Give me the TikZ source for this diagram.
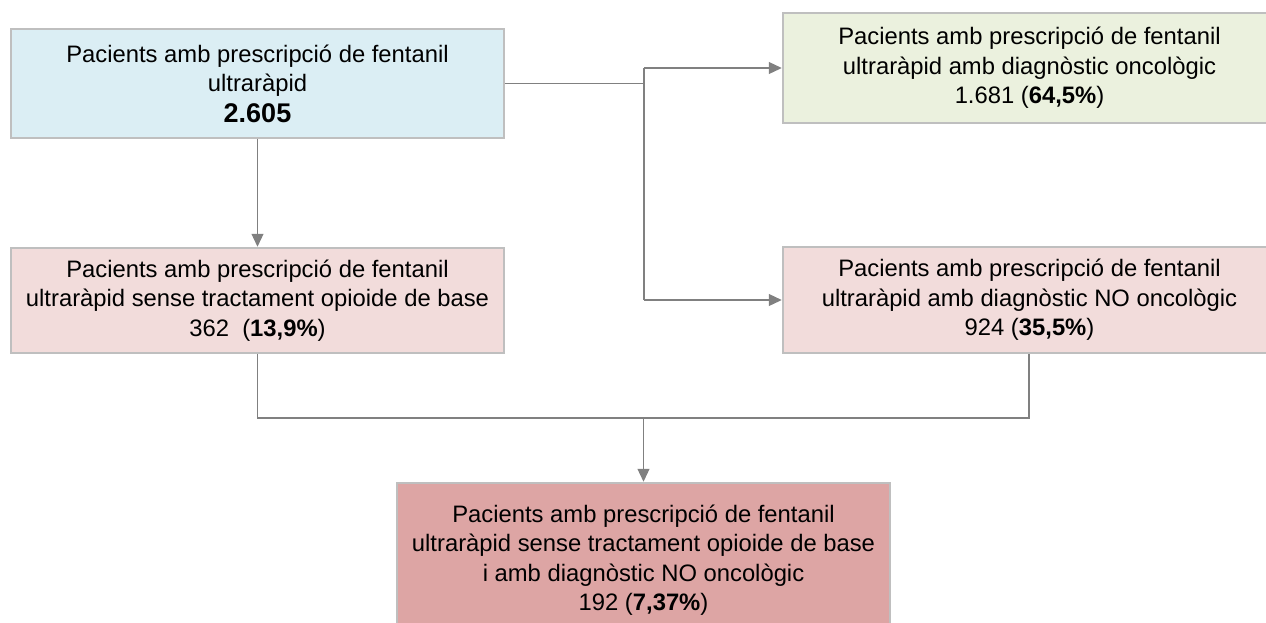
\documentclass[tikz,border=0pt]{standalone}
\usepackage{fontspec}
\setmainfont{Liberation Sans}
\usetikzlibrary{arrows.meta}
\definecolor{bluefill}{HTML}{DBEEF4}
\definecolor{greenfill}{HTML}{EBF1DE}
\definecolor{pinkfill}{HTML}{F2DCDB}
\definecolor{darkpink}{HTML}{DDA5A4}
\definecolor{boxline}{HTML}{BFBFBF}
\definecolor{conn}{HTML}{808080}
\tikzset{
  box/.style={draw=boxline, line width=1.5pt, rectangle, inner sep=0pt,
    minimum width=493pt, minimum height=108pt, align=center,
    font=\fontsize{23.8}{29.5}\selectfont},
  conline/.style={draw=conn, line width=1.2pt},
  arr/.style={conline, -{Triangle[length=13pt,width=12pt]}, shorten >=0.5pt}
}
\begin{document}
\begin{tikzpicture}[x=1pt,y=-1pt]
\useasboundingbox (0,0) rectangle (1266,622);
\clip (0,0) rectangle (1266,622);
\node[box, fill=bluefill, minimum height=109pt] (a) at (257.5,83.5)
  {Pacients amb prescripció de fentanil\\ultraràpid\\[1pt]{\fontsize{27}{30}\selectfont\bfseries 2.605}};
\node[box, fill=greenfill, minimum height=110pt] (b) at (1029.5,68)
  {Pacients amb prescripció de fentanil\\ultraràpid amb diagnòstic oncològic\\1.681 (\textbf{64,5\%})};
\node[box, fill=pinkfill, minimum height=105pt] (c) at (257.5,300.5)
  {Pacients amb prescripció de fentanil\\ultraràpid sense tractament opioide de base\\362\ \ (\textbf{13,9\%})};
\node[box, fill=pinkfill, minimum height=106pt] (d) at (1029.5,300)
  {Pacients amb prescripció de fentanil\\ultraràpid amb diagnòstic NO oncològic\\924 (\textbf{35,5\%})};
\node[box, fill=darkpink, minimum height=154pt] (e) at (643.5,560)
  {Pacients amb prescripció de fentanil\\ultraràpid sense tractament opioide de base\\i amb diagnòstic NO oncològic\\192 (\textbf{7,37\%})};
\coordinate (jx) at (644,0);
\coordinate (m) at (0,418);
\draw[conline] (a.east) -- (a.east -| jx);
\draw[conline] (jx |- b.west) -- (jx |- d.west);
\draw[arr] (jx |- b.west) -- (b.west);
\draw[arr] (jx |- d.west) -- (d.west);
\draw[arr] (a.south) -- (c.north);
\draw[conline] (c.south) -- (c.south |- m) -- (m -| e.north);
\draw[conline] (d.south -| 1029,0) -- (1029,418) -- (m -| e.north);
\draw[arr] (m -| e.north) -- (e.north);
\end{tikzpicture}
\end{document}
